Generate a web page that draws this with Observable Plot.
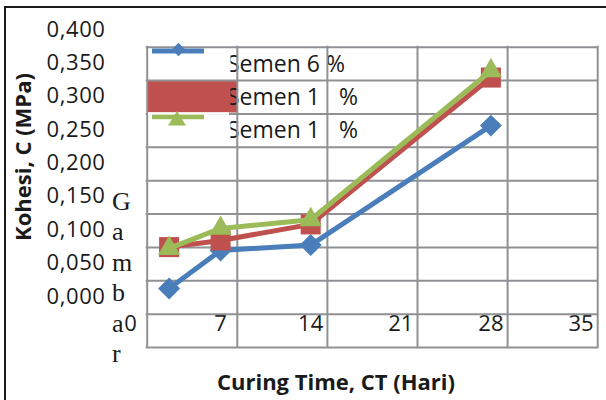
<!DOCTYPE html>
<html><head><meta charset="utf-8">
<script src="https://cdn.jsdelivr.net/npm/d3@7"></script>
<script src="https://cdn.jsdelivr.net/npm/@observablehq/plot@0.6"></script>
<style>
html,body{margin:0;padding:0;background:#fff;}
#wrap{position:relative;width:606px;height:400px;overflow:hidden;background:#fff;}
#border{position:absolute;left:4px;top:5.5px;width:700px;height:500px;border-top:2.6px solid #1c1c1c;border-left:2.6px solid #1c1c1c;pointer-events:none;}
</style></head><body><div id="wrap"><div id="border"></div></div>
<script>
// ---- data ----
const days = [3, 7, 14, 28];
const semen6 = [0.012, 0.069, 0.077, 0.256];
const semen1a = [0.074, 0.084, 0.108, 0.328];
const semen1b = [0.072, 0.102, 0.115, 0.338];
const seriesNames = ["Semen 6 %", "Semen 1\u2007 %", "Semen 1\u2007 %"];
const seriesColors = ["#4A7EBB", "#C0504D", "#9BBB59"];
const seriesSymbols = ["diamond2", "square", "triangle"];
const seriesSizes = [9.9, 11.3, 8.3];
const xTicks = [0, 7, 14, 21, 28, 35];
const yTicks = [0, 0.05, 0.1, 0.15, 0.2, 0.25, 0.3, 0.35, 0.4];
const yTickLabels = ["0,000", "0,050", "0,100", "0,150", "0,200", "0,250", "0,300", "0,350", "0,400"];
const yGrid = [0.4, 0.35, 0.3, 0.25, 0.2, 0.15, 0.1, 0.05, 0, -0.05];
const xTitle = "Curing Time, CT (Hari)";
const yTitle = "Kohesi, C (MPa)";
const strayLetters = ["G", "a", "m", "b", "a", "r"];

const seriesValues = [semen6, semen1a, semen1b];
const rows = [];
seriesValues.forEach((vals, s) => days.forEach((d, i) => rows.push({day: d, value: vals[i], s})));

const gridStyle = {stroke: "#8f9194", strokeWidth: 2, dx: 16.7, dy: 17.7, strokeLinecap: "square"};
const font = "'Open Sans', sans-serif";

const seriesMarks = [];
[0, 1, 2].forEach(s => {
  const data = rows.filter(r => r.s === s);
  seriesMarks.push(Plot.line(data, {x: "day", y: "value", stroke: seriesColors[s], strokeWidth: 5}));
  seriesMarks.push(Plot.dot(data, {x: "day", y: "value", fill: seriesColors[s], stroke: "none", symbol: seriesSymbols[s], r: seriesSizes[s]}));
});

const plot = Plot.plot({
  width: 606, height: 400, margin: 0,
  x: {domain: [0, 35], range: [130, 580.5], axis: null},
  y: {domain: [0, 0.4], range: [296, 29], axis: null},
  style: {background: "transparent", fontFamily: font, color: "#1a1a1a"},
  marks: [
    Plot.text(yTicks, {y: d => d, text: (d, i) => yTickLabels[i], frameAnchor: "left", textAnchor: "end", dx: 105, fontSize: 22, fill: "#1a1a1a"}),
    Plot.text(xTicks, {x: d => d, text: d => String(d), frameAnchor: "bottom", dy: -70, fontSize: 22, fill: "#1a1a1a"}),
    Plot.ruleY(yGrid, {y: d => d, x1: 0, x2: 35, ...gridStyle}),
    Plot.ruleX(xTicks, {x: d => d, y1: 0.4, y2: -0.05, ...gridStyle}),
    ...seriesMarks
  ]
});
const wrap = document.getElementById("wrap");
wrap.insertBefore(plot, wrap.firstChild);

const svg = d3.select(plot);
svg.selectAll("g").filter(function() { return this.parentNode === plot; }).each(function(d, i) {
  if (i === 0) d3.select(this).selectAll("text").attr("letter-spacing", 0.6);
});
// axis titles
svg.append("text").attr("x", 336).attr("y", 390).attr("text-anchor", "middle").attr("font-size", 22)
  .attr("font-weight", "bold").attr("font-family", font).attr("fill", "#1a1a1a").text(xTitle);
svg.append("text").attr("transform", "translate(31,157) rotate(-90)").attr("text-anchor", "middle").attr("font-size", 22)
  .attr("font-weight", "bold").attr("font-family", font).attr("fill", "#1a1a1a").text(yTitle);

// legend (under grid): red swatch and text
const under = svg.insert("g", "g");
under.append("rect").attr("x", 148).attr("y", 80).attr("width", 89).attr("height", 32.5).attr("fill", seriesColors[1]);
svg.append("defs").append("clipPath").attr("id", "legclip")
  .append("rect").attr("x", 230.5).attr("y", 40).attr("width", 200).attr("height", 110);
const lt = under.append("g").attr("clip-path", "url(#legclip)");
seriesNames.forEach((n, i) => {
  lt.append("text").attr("x", 227).attr("y", 71.5 + i * 33).attr("font-size", 23).attr("text-anchor", "start")
    .attr("font-family", font).attr("fill", "#1a1a1a").attr("xml:space", "preserve").style("white-space", "pre").text(n);
});
// legend symbols (over grid)
const over = svg.append("g");
over.append("rect").attr("x", 148).attr("y", 112.3).attr("width", 81).attr("height", 2.6).attr("fill", "#fff");
over.append("line").attr("x1", 152).attr("x2", 204).attr("y1", 51).attr("y2", 51).attr("stroke", seriesColors[0]).attr("stroke-width", 5);
over.append("path").attr("d", "M178.5,42.7L185.3,49.5L178.5,56.3L171.7,49.5Z").attr("fill", seriesColors[0]);
over.append("line").attr("x1", 152).attr("x2", 204).attr("y1", 117).attr("y2", 117).attr("stroke", seriesColors[2]).attr("stroke-width", 4.5);
over.append("path").attr("d", "M177,111L186,125.5L168,125.5Z").attr("fill", seriesColors[2]);
// stray serif letters from the source document
const st = svg.append("g");
strayLetters.forEach((c, i) => {
  st.append("text").attr("x", 112).attr("y", 210 + i * 30.4).attr("font-size", 26).attr("text-anchor", "start")
    .attr("font-family", "'Liberation Serif', 'DejaVu Serif', serif").attr("fill", "#1a1a1a").text(c);
});
</script>
</body></html>
